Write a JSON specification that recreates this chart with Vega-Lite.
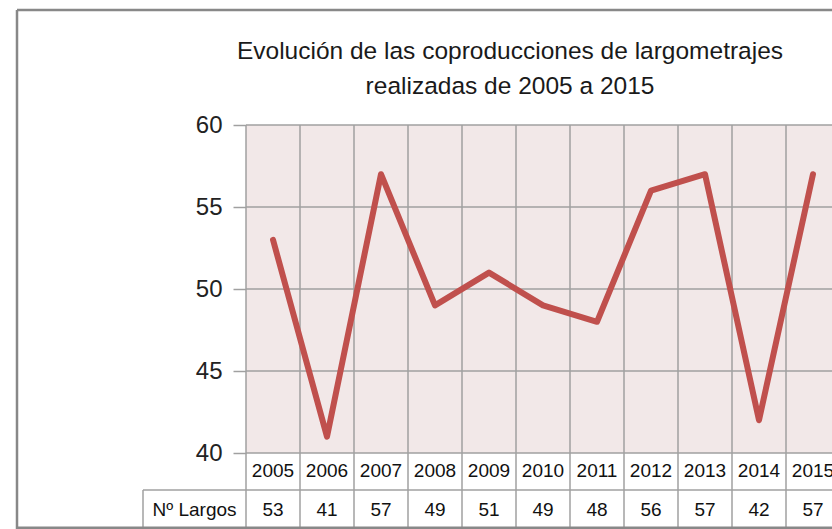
{
  "$schema": "https://vega.github.io/schema/vega-lite/v6.json",
  "autosize": {"type": "none"},
  "width": 586,
  "height": 404,
  "padding": {"left": 246, "top": 125, "right": 0, "bottom": 0},
  "background": "white",
  "config": {"font": "Liberation Sans", "view": {"stroke": null}},
  "title": {
    "text": ["Evolución de las coproducciones de largometrajes", "realizadas  de  2005 a 2015"],
    "fontSize": 24.5,
    "fontWeight": "normal",
    "color": "#1a1a1a",
    "lineHeight": 35,
    "anchor": "middle",
    "dx": -29,
    "offset": -91
  },
  "data": {"values": [
    {"year": "2005", "n": 53},
    {"year": "2006", "n": 41},
    {"year": "2007", "n": 57},
    {"year": "2008", "n": 49},
    {"year": "2009", "n": 51},
    {"year": "2010", "n": 49},
    {"year": "2011", "n": 48},
    {"year": "2012", "n": 56},
    {"year": "2013", "n": 57},
    {"year": "2014", "n": 42},
    {"year": "2015", "n": 57}
  ]},
  "layer": [
    {
      "data": {"values": [{}]},
      "mark": {"type": "rect", "color": "#f2e8e8"},
      "encoding": {
        "x": {"value": 0},
        "x2": {"value": 594},
        "y": {"datum": 60, "type": "quantitative", "scale": {"domain": [35.366, 60], "nice": false, "zero": false},
          "axis": {"values": [40, 45, 50, 55, 60], "title": null, "domain": false, "grid": false, "tickSize": 13, "tickColor": "#a0a0a0", "tickWidth": 1.5, "labelFontSize": 24, "labelColor": "#222222", "labelPadding": 11, "labelFont": "Liberation Sans"}},
        "y2": {"datum": 40}
      }
    },
    {
      "data": {"values": [{"v": 40}, {"v": 45}, {"v": 50}, {"v": 55}, {"v": 60}]},
      "mark": {"type": "rule", "color": "#a0a0a0", "strokeWidth": 1.5},
      "encoding": {
        "x": {"value": 0},
        "x2": {"value": 594},
        "y": {"field": "v", "type": "quantitative", "scale": {"domain": [35.366, 60], "nice": false, "zero": false},
          "axis": {"values": [40, 45, 50, 55, 60], "title": null, "domain": false, "grid": false, "tickSize": 13, "tickColor": "#a0a0a0", "tickWidth": 1.5, "labelFontSize": 24, "labelColor": "#222222", "labelPadding": 11, "labelFont": "Liberation Sans"}}
      }
    },
    {
      "mark": {"type": "rule", "color": "#a0a0a0", "strokeWidth": 1.5},
      "encoding": {
        "x": {"field": "year", "type": "ordinal", "bandPosition": 0, "scale": {"range": [0, 594], "paddingInner": 0, "paddingOuter": 0}, "axis": null},
        "y": {"value": 0},
        "y2": {"value": 404}
      }
    },
    {
      "data": {"values": [{}]},
      "mark": {"type": "rule", "color": "#a0a0a0", "strokeWidth": 1.5},
      "encoding": {
        "x": {"value": -103},
        "x2": {"value": 594},
        "y": {"datum": 37.744, "type": "quantitative", "scale": {"domain": [35.366, 60], "nice": false, "zero": false},
          "axis": {"values": [40, 45, 50, 55, 60], "title": null, "domain": false, "grid": false, "tickSize": 13, "tickColor": "#a0a0a0", "tickWidth": 1.5, "labelFontSize": 24, "labelColor": "#222222", "labelPadding": 11, "labelFont": "Liberation Sans"}}
      }
    },
    {
      "data": {"values": [{}]},
      "mark": {"type": "rule", "color": "#a0a0a0", "strokeWidth": 1.5},
      "encoding": {
        "x": {"value": -103},
        "y": {"datum": 37.744, "type": "quantitative", "scale": {"domain": [35.366, 60], "nice": false, "zero": false},
          "axis": {"values": [40, 45, 50, 55, 60], "title": null, "domain": false, "grid": false, "tickSize": 13, "tickColor": "#a0a0a0", "tickWidth": 1.5, "labelFontSize": 24, "labelColor": "#222222", "labelPadding": 11, "labelFont": "Liberation Sans"}},
        "y2": {"value": 404}
      }
    },
    {
      "data": {"values": [{}]},
      "mark": {"type": "rule", "color": "#888888", "strokeWidth": 2.5},
      "encoding": {"x": {"value": -229}, "y": {"value": -115}, "y2": {"value": 404}}
    },
    {
      "data": {"values": [{}]},
      "mark": {"type": "rule", "color": "#888888", "strokeWidth": 2.5},
      "encoding": {"x": {"value": -229}, "x2": {"value": 600}, "y": {"value": -115}}
    },
    {
      "data": {"values": [{}]},
      "mark": {"type": "rule", "color": "#888888", "strokeWidth": 2.5},
      "encoding": {"x": {"value": -229}, "x2": {"value": 600}, "y": {"value": 402.8}}
    },
    {
      "mark": {"type": "line", "color": "#c0504d", "strokeWidth": 6, "strokeCap": "round", "strokeJoin": "round"},
      "encoding": {
        "x": {"field": "year", "type": "ordinal", "scale": {"range": [0, 594], "paddingInner": 0, "paddingOuter": 0}, "axis": null},
        "y": {"field": "n", "type": "quantitative", "scale": {"domain": [35.366, 60], "nice": false, "zero": false},
          "axis": {"values": [40, 45, 50, 55, 60], "title": null, "domain": false, "grid": false, "tickSize": 13, "tickColor": "#a0a0a0", "tickWidth": 1.5, "labelFontSize": 24, "labelColor": "#222222", "labelPadding": 11, "labelFont": "Liberation Sans"}}
      }
    },
    {
      "mark": {"type": "text", "fontSize": 19, "color": "#111111", "baseline": "middle", "align": "center"},
      "encoding": {
        "x": {"field": "year", "type": "ordinal", "scale": {"range": [0, 594], "paddingInner": 0, "paddingOuter": 0}, "axis": null},
        "y": {"datum": 38.91, "type": "quantitative", "scale": {"domain": [35.366, 60], "nice": false, "zero": false},
          "axis": {"values": [40, 45, 50, 55, 60], "title": null, "domain": false, "grid": false, "tickSize": 13, "tickColor": "#a0a0a0", "tickWidth": 1.5, "labelFontSize": 24, "labelColor": "#222222", "labelPadding": 11, "labelFont": "Liberation Sans"}},
        "text": {"field": "year"}
      }
    },
    {
      "mark": {"type": "text", "fontSize": 19, "color": "#111111", "baseline": "middle", "align": "center"},
      "encoding": {
        "x": {"field": "year", "type": "ordinal", "scale": {"range": [0, 594], "paddingInner": 0, "paddingOuter": 0}, "axis": null},
        "y": {"datum": 36.555, "type": "quantitative", "scale": {"domain": [35.366, 60], "nice": false, "zero": false},
          "axis": {"values": [40, 45, 50, 55, 60], "title": null, "domain": false, "grid": false, "tickSize": 13, "tickColor": "#a0a0a0", "tickWidth": 1.5, "labelFontSize": 24, "labelColor": "#222222", "labelPadding": 11, "labelFont": "Liberation Sans"}},
        "text": {"field": "n"}
      }
    },
    {
      "data": {"values": [{}]},
      "mark": {"type": "text", "fontSize": 19, "color": "#111111", "baseline": "middle", "align": "center"},
      "encoding": {
        "x": {"value": -51.5},
        "y": {"datum": 36.555, "type": "quantitative", "scale": {"domain": [35.366, 60], "nice": false, "zero": false},
          "axis": {"values": [40, 45, 50, 55, 60], "title": null, "domain": false, "grid": false, "tickSize": 13, "tickColor": "#a0a0a0", "tickWidth": 1.5, "labelFontSize": 24, "labelColor": "#222222", "labelPadding": 11, "labelFont": "Liberation Sans"}},
        "text": {"value": "Nº Largos"}
      }
    }
  ]
}
